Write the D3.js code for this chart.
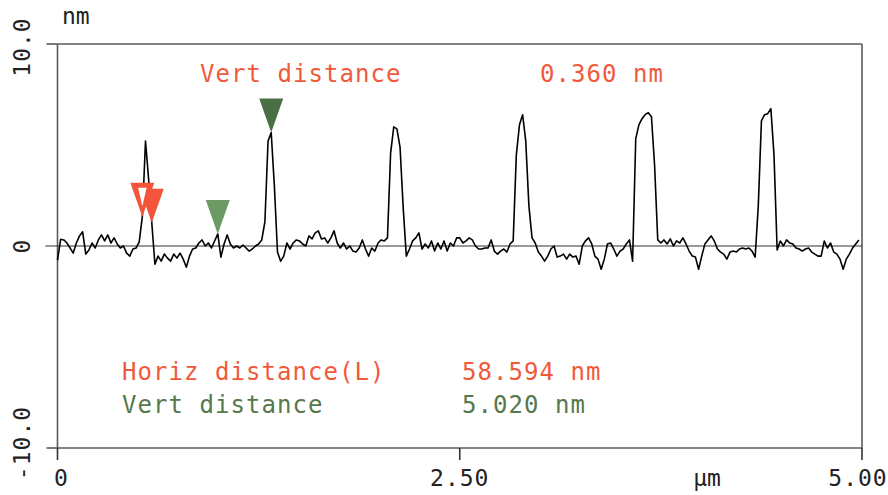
<!DOCTYPE html>
<html>
<head>
<meta charset="utf-8">
<script src="https://cdn.jsdelivr.net/npm/d3@7"></script>
<style>
  html, body { margin: 0; padding: 0; background: #fff; }
  svg { display: block; }
  text { font-family: "DejaVu Sans Mono", "Liberation Mono", monospace; }
</style>
</head>
<body>
<svg id="chart" width="888" height="495"></svg>
<script>
const scanLength = 5.0;            // µm
const sampleCount = 256;           // samples across the scan
const heights = [
 -0.7, 0.33, 0.3, 0.15, -0.1, -0.35, 0.15, 0.5, 0.7, -0.4,
 -0.2, 0.15, -0.1, 0.3, 0.55, 0.25, 0.55, 0.15, 0.4, 0.1,
 -0.1, 0.0, -0.35, -0.5, -0.15, -0.1, 0.2, 1.45, 5.2, 3.3,
 1.15, -0.9, -0.5, -0.75, -0.4, -0.6, -0.75, -0.4, -0.6, -0.35,
 -0.65, -1.05, -0.5, -0.15, -0.1, 0.15, 0.3, 0.0, 0.15, -0.1,
 0.25, 0.6, -0.55, 0.1, 0.55, 0.1, -0.1, 0.0, -0.1, 0.05,
 -0.1, -0.25, -0.15, 0.0, 0.1, 0.3, 1.2, 5.2, 5.62, 3.0,
 -0.3, -0.75, -0.5, 0.15, -0.15, 0.15, 0.3, 0.25, 0.1, 0.0,
 0.5, 0.35, 0.65, 0.75, 0.35, 0.4, 0.15, 0.4, 0.75, 0.15,
 -0.1, 0.15, -0.15, 0.0, -0.25, -0.3, -0.1, 0.3, -0.15, -0.5,
 -0.1, -0.25, 0.15, 0.3, 0.25, 0.4, 4.6, 5.9, 5.8, 4.9,
 1.9, -0.5, -0.15, 0.25, 0.4, 0.65, -0.15, 0.1, -0.1, 0.25,
 -0.25, 0.15, -0.15, 0.25, -0.25, 0.15, 0.0, 0.4, 0.4, 0.15,
 0.25, 0.4, 0.3, 0.0, -0.15, -0.15, -0.1, -0.1, 0.3, -0.25,
 -0.4, -0.25, -0.15, -0.3, 0.1, 0.25, 4.5, 6.0, 6.5, 5.2,
 2.0, 0.4, 0.15, -0.3, -0.5, -0.75, -0.5, -0.15, 0.0, -0.55,
 -0.5, -0.4, -0.65, -0.4, -0.55, -0.5, -0.9, 0.0, 0.25, 0.4,
 0.1, -0.5, -0.65, -1.15, -0.65, 0.1, 0.15, -0.15, -0.5, -0.25,
 -0.15, 0.1, 0.3, -0.75, 5.3, 6.0, 6.3, 6.5, 6.6, 6.4,
 4.0, 0.3, 0.15, 0.3, 0.1, 0.35, 0.0, 0.25, 0.15, 0.4,
 0.1, -0.25, -0.5, -0.55, -1.15, -0.5, 0.1, 0.3, 0.5, 0.25,
 -0.15, -0.3, -0.4, -0.65, -0.3, -0.25, -0.3, -0.15, -0.1, -0.15,
 -0.1, -0.25, -0.55, 2.0, 6.2, 6.5, 6.55, 6.8, 4.5, -0.2,
 0.25, 0.0, 0.3, 0.15, 0.1, -0.1, -0.15, -0.25, -0.15, -0.1,
 -0.3, -0.4, -0.5, -0.5, 0.25, -0.1, 0.15, -0.3, -0.4, -0.65,
 -1.15, -0.65, -0.4, -0.1, 0.1, 0.3
];
const xTickValues = [0, 2.5, 5.0];
const xTickLabels = ["0", "2.50", "5.00"];
const yTickValues = [10, 0, -10];
const yTickLabels = ["10.0", "0", "-10.0"];
const xUnit = "µm";
const yUnit = "nm";
const redCursorIdx = [27, 30];     // hollow (left), filled (right)
const greenCursorIdx = [51, 68];   // light (low), dark (high)
const topLabels = ["Vert distance", "0.360 nm"];
const horizLabels = ["Horiz distance(L)", "58.594 nm"];
const vertLabels = ["Vert distance", "5.020 nm"];

// ---- drawing ----
const RED = "#f4553a", RED_TXT = "#f05a3c";
const GREEN_DARK = "#4b6f44", GREEN_LIGHT = "#6b9a62", GREEN_TXT = "#55784c";
const svg = d3.select("#chart");
const pLeft = 57.5, pRight = 862, pTop = 44, pBottom = 448;

const x = d3.scaleLinear().domain([0, scanLength]).range([pLeft, pRight]);
const y = d3.scaleLinear().domain([-10, 10]).range([pBottom, pTop]);
const step = scanLength / sampleCount;
const pts = heights.map((h, i) => [i * step, h]);

// frame
const frame = svg.append("g").attr("stroke", "#5a5a5a").attr("stroke-width", 1.6).attr("fill", "none");
frame.append("line").attr("x1", pLeft).attr("x2", pRight).attr("y1", pTop).attr("y2", pTop);
frame.append("line").attr("x1", pRight).attr("x2", pRight).attr("y1", pTop).attr("y2", pBottom);
frame.append("line").attr("x1", pLeft).attr("x2", pLeft).attr("y1", pTop).attr("y2", pBottom);
frame.append("line").attr("x1", pLeft).attr("x2", pRight).attr("y1", pBottom).attr("y2", pBottom);

// y ticks (outer) + zero line
svg.append("g").selectAll("line").data(yTickValues).join("line")
  .attr("x1", d => d === 0 ? pLeft - 12 : pLeft - 11)
  .attr("x2", d => d === 0 ? pRight : pLeft)
  .attr("y1", d => y(d)).attr("y2", d => y(d))
  .attr("stroke", d => d === 0 ? "#333" : "#5a5a5a")
  .attr("stroke-width", d => d === 0 ? 1.2 : 1.6);

// y tick labels (rotated)
svg.append("g").selectAll("text").data(yTickValues).join("text")
  .attr("transform", (d, i) => `translate(30, ${y(d) + (i === 0 ? 3 : (i === 2 ? -5 : 0))}) rotate(-90)`)
  .attr("text-anchor", "middle")
  .attr("font-size", 23)
  .attr("letter-spacing", 1)
  .attr("fill", "#222")
  .text((d, i) => yTickLabels[i]);

// x ticks
svg.append("g").selectAll("line").data(xTickValues).join("line")
  .attr("x1", d => x(d)).attr("x2", d => x(d))
  .attr("y1", pBottom).attr("y2", pBottom + 12)
  .attr("stroke", "#333").attr("stroke-width", 1.6);

svg.append("g").selectAll("text").data(xTickValues).join("text")
  .attr("x", (d, i) => x(d) + (i === 0 ? 4 : (i === 2 ? -4 : 0)))
  .attr("y", 486)
  .attr("text-anchor", "middle")
  .attr("font-size", 23)
  .attr("letter-spacing", 1)
  .attr("fill", "#222")
  .text((d, i) => xTickLabels[i]);

svg.append("text").attr("x", 707).attr("y", 486).attr("text-anchor", "middle")
  .attr("font-size", 23).attr("fill", "#222").text(xUnit);
svg.append("text").attr("x", 62).attr("y", 24)
  .attr("font-size", 23).attr("fill", "#222").text(yUnit);

// profile line
svg.append("path").datum(pts)
  .attr("d", d3.line().x(d => x(d[0])).y(d => y(d[1])))
  .attr("fill", "none").attr("stroke", "#000").attr("stroke-width", 1.6)
  .attr("stroke-linejoin", "round");

// cursors
const tw = 12, th = 34;
function tri(cx, cy, inset) {
  const k = inset || 0;
  const sx = tw - k * 1.55, topY = cy - th + k, tipY = cy - k * 2.1;
  return `M${cx - sx},${topY}L${cx + sx},${topY}L${cx},${tipY}Z`;
}
const cur = svg.append("g");
cur.append("path").attr("d", tri(x(redCursorIdx[1] * step), y(heights[redCursorIdx[1]]))).attr("fill", RED);
cur.append("path").attr("d", tri(x(redCursorIdx[0] * step), y(heights[redCursorIdx[0]]))).attr("fill", RED);
cur.append("path").attr("d", tri(x(redCursorIdx[0] * step), y(heights[redCursorIdx[0]]), 5)).attr("fill", "#fff");
cur.append("path").attr("d", tri(x(greenCursorIdx[0] * step), y(heights[greenCursorIdx[0]]))).attr("fill", GREEN_LIGHT);
cur.append("path").attr("d", tri(x(greenCursorIdx[1] * step), y(heights[greenCursorIdx[1]]))).attr("fill", GREEN_DARK);

// annotations
function label(txt, xp, yp, color) {
  svg.append("text").attr("x", xp).attr("y", yp).attr("font-size", 24)
    .attr("letter-spacing", 1.05).attr("fill", color).text(txt);
}
label(topLabels[0], 200, 82, RED_TXT);
label(topLabels[1], 540, 82, RED_TXT);
label(horizLabels[0], 122, 380, RED_TXT);
label(horizLabels[1], 462, 380, RED_TXT);
label(vertLabels[0], 122, 413, GREEN_TXT);
label(vertLabels[1], 462, 413, GREEN_TXT);
</script>
</body>
</html>
